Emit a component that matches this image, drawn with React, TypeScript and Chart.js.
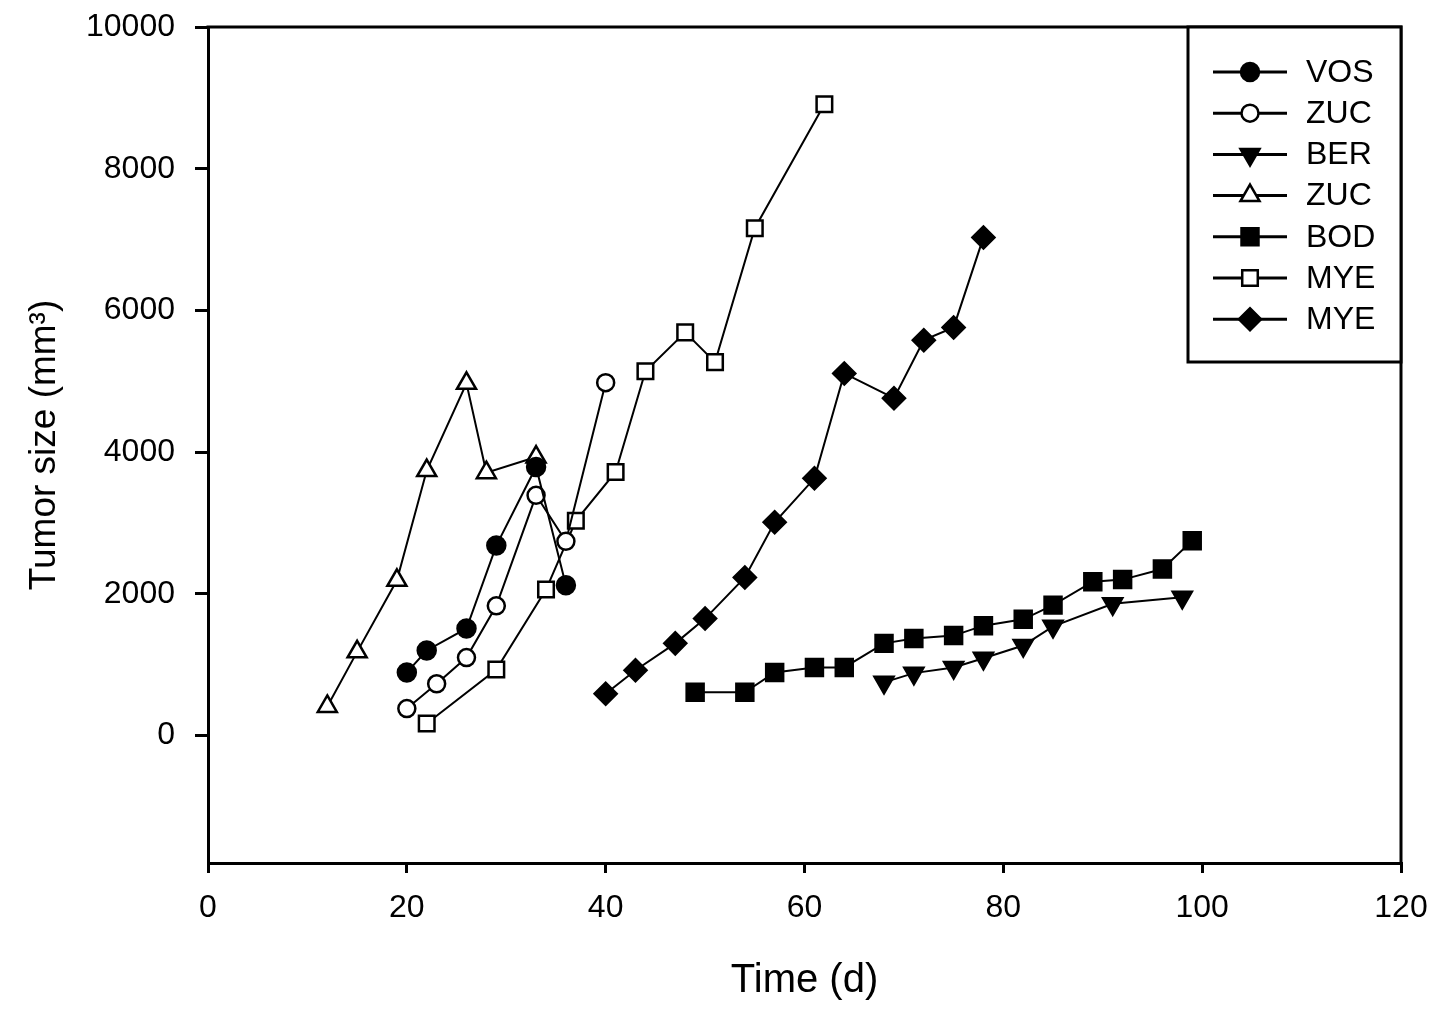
import React, { useEffect, useRef } from 'react';
import { Chart, registerables } from 'chart.js';

Chart.register(...registerables);

// ---------- data ----------
const X_TICKS = [0, 20, 40, 60, 80, 100, 120];
const Y_TICKS = [0, 2000, 4000, 6000, 8000, 10000];
const X_TITLE = 'Time (d)';
const Y_TITLE = 'Tumor size (mm\u00B3)';

const SERIES_NAMES = ['VOS', 'ZUC', 'BER', 'ZUC', 'BOD', 'MYE', 'MYE'];

const VOS_DAYS = [20, 22, 26, 29, 33, 36];
const VOS_SIZE = [890, 1200, 1510, 2680, 3790, 2120];

const ZUC1_DAYS = [20, 23, 26, 29, 33, 36, 40];
const ZUC1_SIZE = [380, 730, 1100, 1830, 3390, 2740, 4980];

const BER_DAYS = [68, 71, 75, 78, 82, 85, 91, 98];
const BER_SIZE = [750, 880, 960, 1090, 1270, 1540, 1860, 1950];

const ZUC2_DAYS = [12, 15, 19, 22, 26, 28, 33];
const ZUC2_SIZE = [410, 1180, 2190, 3740, 4970, 3710, 3930];

const BOD_DAYS = [49, 54, 57, 61, 64, 68, 71, 75, 78, 82, 85, 89, 92, 96, 99];
const BOD_SIZE = [610, 610, 890, 960, 960, 1300, 1370, 1410, 1550, 1640, 1840, 2170, 2200, 2350, 2750];

const MYE1_DAYS = [22, 29, 34, 37, 41, 44, 48, 51, 55, 62];
const MYE1_SIZE = [170, 930, 2060, 3030, 3720, 5140, 5690, 5270, 7160, 8910];

const MYE2_DAYS = [40, 43, 47, 50, 54, 57, 61, 64, 69, 72, 75, 78];
const MYE2_SIZE = [590, 920, 1300, 1650, 2230, 3010, 3630, 5110, 4760, 5580, 5760, 7030];

const SERIES_DAYS = [VOS_DAYS, ZUC1_DAYS, BER_DAYS, ZUC2_DAYS, BOD_DAYS, MYE1_DAYS, MYE2_DAYS];
const SERIES_SIZE = [VOS_SIZE, ZUC1_SIZE, BER_SIZE, ZUC2_SIZE, BOD_SIZE, MYE1_SIZE, MYE2_SIZE];

// ---------- styles ----------
type MarkerStyle = { shape: 'circle' | 'triangle' | 'rect' | 'rectRot'; r: number; filled: boolean; rotation: number };
const MARKERS: MarkerStyle[] = [
  { shape: 'circle', r: 9, filled: true, rotation: 0 },
  { shape: 'circle', r: 8.5, filled: false, rotation: 0 },
  { shape: 'triangle', r: 11, filled: true, rotation: 180 },
  { shape: 'triangle', r: 11, filled: false, rotation: 0 },
  { shape: 'rect', r: 12, filled: true, rotation: 0 },
  { shape: 'rect', r: 11, filled: false, rotation: 0 },
  { shape: 'rectRot', r: 11, filled: true, rotation: 0 },
];

const FONT = "'Liberation Sans', Arial, Helvetica, sans-serif";
const INK = '#000000';
const FRAME_W = 3;

function drawMarker(ctx: CanvasRenderingContext2D, m: MarkerStyle, x: number, y: number) {
  const r = m.r;
  ctx.beginPath();
  if (m.shape === 'circle') {
    ctx.arc(x, y, r, 0, Math.PI * 2);
  } else if (m.shape === 'triangle') {
    let rad = (m.rotation * Math.PI) / 180;
    ctx.moveTo(x + Math.sin(rad) * r, y - Math.cos(rad) * r);
    rad += (2 * Math.PI) / 3;
    ctx.lineTo(x + Math.sin(rad) * r, y - Math.cos(rad) * r);
    rad += (2 * Math.PI) / 3;
    ctx.lineTo(x + Math.sin(rad) * r, y - Math.cos(rad) * r);
    ctx.closePath();
  } else if (m.shape === 'rect') {
    const s = r * Math.SQRT1_2;
    ctx.rect(x - s, y - s, 2 * s, 2 * s);
  } else {
    ctx.moveTo(x - r, y);
    ctx.lineTo(x, y - r);
    ctx.lineTo(x + r, y);
    ctx.lineTo(x, y + r);
    ctx.closePath();
  }
  ctx.fillStyle = m.filled ? INK : '#ffffff';
  ctx.fill();
  ctx.lineWidth = 2.5;
  ctx.strokeStyle = INK;
  ctx.stroke();
}

const framePlugin = {
  id: 'frameAndLegend',
  afterDraw(chart: any) {
    const { ctx, chartArea } = chart;
    const { top, right, bottom } = chartArea;
    ctx.save();
    // top and right frame lines
    ctx.strokeStyle = INK;
    ctx.lineWidth = FRAME_W;
    ctx.beginPath();
    ctx.moveTo(chartArea.left - 1.5, top);
    ctx.lineTo(right, top);
    ctx.lineTo(right, bottom);
    ctx.stroke();

    // legend box
    const boxW = 213;
    const boxH = 335;
    const bx = right - boxW;
    const by = top;
    ctx.fillStyle = '#ffffff';
    ctx.fillRect(bx, by, boxW, boxH);
    ctx.lineWidth = FRAME_W;
    ctx.strokeStyle = INK;
    ctx.strokeRect(bx, by, boxW, boxH);

    const rowH = 41.2;
    ctx.font = `32px ${FONT}`;
    ctx.textBaseline = 'middle';
    ctx.textAlign = 'left';
    SERIES_NAMES.forEach((name, i) => {
      const cy = by + 45 + i * rowH;
      ctx.beginPath();
      ctx.moveTo(bx + 25, cy);
      ctx.lineTo(bx + 99, cy);
      ctx.lineWidth = 3;
      ctx.strokeStyle = INK;
      ctx.stroke();
      drawMarker(ctx, MARKERS[i], bx + 62, cy);
      ctx.fillStyle = INK;
      ctx.fillText(name, bx + 118, cy + 1);
    });
    ctx.restore();
  },
};

export default function App() {
  const canvasRef = useRef<HTMLCanvasElement | null>(null);

  useEffect(() => {
    document.body.style.margin = '0';
    const canvas = canvasRef.current;
    if (!canvas) return;

    const datasets = SERIES_NAMES.map((name, i) => {
      const m = MARKERS[i];
      return {
        label: name,
        data: SERIES_DAYS[i].map((d, j) => ({ x: d, y: SERIES_SIZE[i][j] })),
        borderColor: INK,
        borderWidth: 2,
        fill: false,
        tension: 0,
        pointStyle: m.shape,
        pointRadius: m.r,
        pointRotation: m.rotation,
        pointBackgroundColor: m.filled ? INK : '#ffffff',
        pointBorderColor: INK,
        pointBorderWidth: 2.5,
        showLine: true,
      };
    });

    const chart = new Chart(canvas, {
      type: 'line',
      data: { datasets },
      options: {
        animation: false,
        responsive: false,
        devicePixelRatio: 1,
        layout: { padding: { top: 27, right: 40, left: 0, bottom: 0 } },
        plugins: {
          legend: { display: false },
          tooltip: { enabled: false },
        },
        elements: { line: { borderJoinStyle: 'miter' } },
        scales: {
          x: {
            type: 'linear',
            min: X_TICKS[0],
            max: X_TICKS[X_TICKS.length - 1],
            afterBuildTicks: (scale: any) => {
              scale.ticks = X_TICKS.map((v) => ({ value: v }));
            },
            afterFit: (scale: any) => {
              scale.height = 152;
              scale.paddingLeft = 0;
              scale.paddingRight = 0;
            },
            ticks: {
              color: INK,
              font: { family: FONT, size: 32 },
              padding: 16,
              maxRotation: 0,
              callback: (v: any) => String(v),
            },
            grid: {
              drawOnChartArea: false,
              drawTicks: true,
              tickLength: 10,
              lineWidth: FRAME_W,
              color: INK,
            },
            border: { display: true, color: INK, width: FRAME_W },
            title: {
              display: true,
              text: X_TITLE,
              color: INK,
              font: { family: FONT, size: 40 },
              padding: { top: 0, bottom: 10 },
            },
          },
          y: {
            type: 'linear',
            min: -1800,
            max: 10000,
            afterBuildTicks: (scale: any) => {
              scale.ticks = Y_TICKS.map((v) => ({ value: v }));
            },
            afterFit: (scale: any) => {
              scale.width = 208;
              scale.paddingTop = 0;
              scale.paddingBottom = 0;
            },
            ticks: {
              color: INK,
              font: { family: FONT, size: 32 },
              padding: 20,
              callback: (v: any) => String(v),
            },
            grid: {
              drawOnChartArea: false,
              drawTicks: true,
              tickLength: 13,
              lineWidth: FRAME_W,
              color: INK,
            },
            border: { display: true, color: INK, width: FRAME_W },
            title: {
              display: true,
              text: Y_TITLE,
              color: INK,
              font: { family: FONT, size: 37 },
              padding: { top: 23, bottom: 0 },
            },
          },
        },
      },
      plugins: [framePlugin],
    } as any);

    return () => {
      chart.destroy();
    };
  }, []);

  return (
    <div style={{ width: 1441, height: 1015, background: '#ffffff' }}>
      <canvas ref={canvasRef} width={1441} height={1015} style={{ display: 'block' }} />
    </div>
  );
}
